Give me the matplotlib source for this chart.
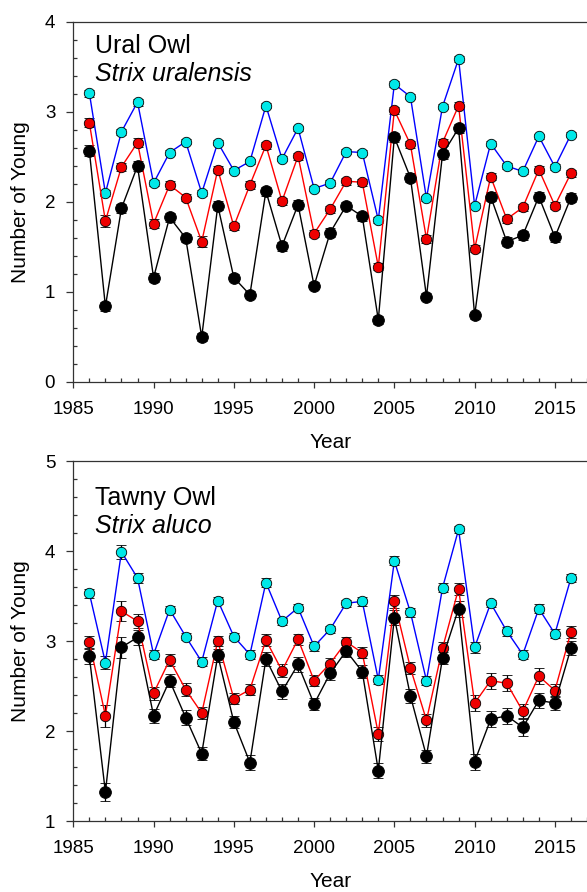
import matplotlib.pyplot as plt
from matplotlib.ticker import MultipleLocator
import numpy as np

plt.rcParams['font.family'] = ['Liberation Sans', 'DejaVu Sans']

years = np.arange(1986, 2017)

# Ural Owl (Strix uralensis)
ural_cyan = [3.21, 2.10, 2.78, 3.11, 2.21, 2.55, 2.67, 2.10, 2.66, 2.35, 2.45, 3.07, 2.48, 2.82, 2.15, 2.21,
             2.56, 2.55, 1.80, 3.31, 3.17, 2.04, 3.06, 3.59, 1.96, 2.65, 2.40, 2.34, 2.73, 2.39, 2.75]
ural_red = [2.88, 1.79, 2.39, 2.66, 1.76, 2.19, 2.05, 1.56, 2.36, 1.73, 2.19, 2.63, 2.01, 2.51, 1.65, 1.92,
            2.23, 2.22, 1.28, 3.02, 2.64, 1.59, 2.66, 3.07, 1.48, 2.28, 1.81, 1.94, 2.36, 1.96, 2.32]
ural_black = [2.57, 0.84, 1.93, 2.40, 1.16, 1.83, 1.60, 0.50, 1.96, 1.16, 0.97, 2.12, 1.51, 1.97, 1.07, 1.66,
              1.96, 1.84, 0.69, 2.72, 2.27, 0.95, 2.53, 2.82, 0.74, 2.06, 1.56, 1.63, 2.06, 1.61, 2.05]
ural_cyan_se = [0.04, 0.03, 0.03, 0.04, 0.03, 0.03, 0.03, 0.03, 0.03, 0.03, 0.03, 0.03, 0.03, 0.03, 0.03, 0.03,
                0.03, 0.03, 0.03, 0.03, 0.03, 0.03, 0.03, 0.03, 0.03, 0.03, 0.03, 0.03, 0.03, 0.03, 0.03]
ural_red_se = [0.05, 0.07, 0.04, 0.05, 0.05, 0.04, 0.04, 0.06, 0.04, 0.04, 0.04, 0.04, 0.04, 0.04, 0.04, 0.04,
               0.04, 0.04, 0.04, 0.04, 0.04, 0.04, 0.04, 0.04, 0.04, 0.04, 0.04, 0.04, 0.04, 0.04, 0.04]
ural_black_se = [0.06, 0.05, 0.05, 0.06, 0.05, 0.05, 0.04, 0.04, 0.05, 0.04, 0.04, 0.05, 0.05, 0.05, 0.04, 0.05,
                 0.04, 0.05, 0.04, 0.05, 0.05, 0.04, 0.05, 0.05, 0.04, 0.05, 0.05, 0.05, 0.05, 0.05, 0.05]

# Tawny Owl (Strix aluco)
tawny_cyan = [3.53, 2.76, 3.99, 3.70, 2.85, 3.35, 3.05, 2.77, 3.45, 3.05, 2.85, 3.65, 3.22, 3.37, 2.94, 3.13,
              3.42, 3.44, 2.57, 3.89, 3.32, 2.56, 3.59, 4.24, 2.93, 3.42, 3.11, 2.85, 3.36, 3.08, 3.70]
tawny_red = [2.99, 2.17, 3.33, 3.22, 2.42, 2.79, 2.46, 2.20, 3.00, 2.36, 2.46, 3.01, 2.67, 3.02, 2.56, 2.75,
             2.99, 2.87, 1.97, 3.44, 2.70, 2.12, 2.92, 3.58, 2.31, 2.56, 2.53, 2.22, 2.61, 2.45, 3.10]
tawny_black = [2.83, 1.32, 2.93, 3.04, 2.17, 2.56, 2.15, 1.75, 2.84, 2.10, 1.65, 2.80, 2.44, 2.74, 2.30, 2.64,
               2.89, 2.66, 1.56, 3.26, 2.39, 1.72, 2.81, 3.36, 1.66, 2.13, 2.17, 2.04, 2.34, 2.31, 2.92]
tawny_cyan_se = [0.05, 0.07, 0.08, 0.06, 0.05, 0.04, 0.04, 0.05, 0.04, 0.04, 0.05, 0.05, 0.04, 0.04, 0.05, 0.04,
                 0.04, 0.05, 0.05, 0.05, 0.05, 0.05, 0.05, 0.04, 0.06, 0.04, 0.05, 0.05, 0.05, 0.05, 0.04]
tawny_red_se = [0.07, 0.12, 0.11, 0.08, 0.07, 0.07, 0.07, 0.07, 0.06, 0.06, 0.06, 0.07, 0.07, 0.06, 0.06, 0.06,
                0.06, 0.06, 0.08, 0.07, 0.07, 0.07, 0.07, 0.07, 0.09, 0.09, 0.09, 0.08, 0.09, 0.07, 0.07]
tawny_black_se = [0.08, 0.10, 0.12, 0.08, 0.08, 0.07, 0.08, 0.07, 0.07, 0.07, 0.08, 0.08, 0.08, 0.08, 0.07, 0.07,
                  0.07, 0.07, 0.08, 0.08, 0.08, 0.07, 0.07, 0.09, 0.09, 0.09, 0.09, 0.09, 0.08, 0.08, 0.08]

panels = [
    ("Ural Owl", "Strix uralensis", (ural_cyan, ural_red, ural_black),
     (ural_cyan_se, ural_red_se, ural_black_se), (0, 4)),
    ("Tawny Owl", "Strix aluco", (tawny_cyan, tawny_red, tawny_black),
     (tawny_cyan_se, tawny_red_se, tawny_black_se), (1, 5)),
]

line_colors = ['blue', 'red', 'black']
face_colors = ['#00e8e8', '#ee0000', 'black']
msizes = [7.5, 7.5, 8.5]

W, H = 587, 892
fig = plt.figure(figsize=(W / 100, H / 100), dpi=100)

ax_left = 73.3
ax_w = W - ax_left
ax_h = 360
tops = [22, 461]

for (name, latin, series, errs, ylim), top in zip(panels, tops):
    ax = fig.add_axes([ax_left / W, 1 - (top + ax_h) / H, ax_w / W, ax_h / H])
    for vals, se, lc, fc, ms in zip(series, errs, line_colors, face_colors, msizes):
        ax.errorbar(years, vals, yerr=se, color=lc, lw=1.0, ecolor='black', elinewidth=0.9,
                    capsize=3.8, capthick=0.9, marker='o', ms=ms, mfc=fc, mec='black', mew=0.6,
                    zorder=3)
    ax.set_xlim(1985, 2017)
    ax.set_ylim(*ylim)
    ax.xaxis.set_major_locator(MultipleLocator(5))
    ax.xaxis.set_minor_locator(MultipleLocator(1))
    ax.yaxis.set_major_locator(MultipleLocator(1))
    ax.yaxis.set_minor_locator(MultipleLocator(0.2))
    ax.tick_params(which='major', direction='out', length=4, width=0.9, color='#333333',
                   labelsize=13.5)
    ax.tick_params(which='minor', direction='in', length=3, width=0.9, color='#333333')
    ax.tick_params(axis='x', which='major', pad=10)
    ax.tick_params(axis='y', which='major', pad=8, length=5)
    ax.spines['right'].set_visible(False)
    for s in ['left', 'top', 'bottom']:
        ax.spines[s].set_linewidth(0.9)
        ax.spines[s].set_color('#333333')
    ax.text(0.042, 0.915 if ylim[0] == 0 else 0.878, name, transform=ax.transAxes,
            fontsize=18, va='baseline')
    ax.text(0.042, 0.836 if ylim[0] == 0 else 0.800, latin, transform=ax.transAxes,
            fontsize=18, style='italic', va='baseline')
    ax.text(0.5, -66 / ax_h, "Year", transform=ax.transAxes, ha='center', va='baseline',
            fontsize=15)
    fig.text(21 / W, 1 - (top + ax_h / 2) / H, "Number of Young", rotation=90,
             ha='center', va='center', fontsize=15)

fig.savefig("out.png", dpi=100)
